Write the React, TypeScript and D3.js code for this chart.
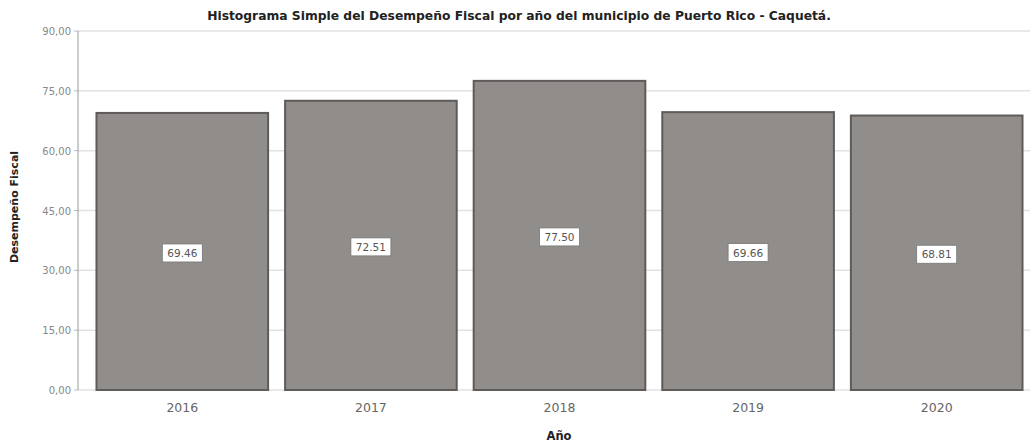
import React from "react";
import * as d3 from "d3";

const years = ["2016", "2017", "2018", "2019", "2020"];
const values = [69.46, 72.51, 77.5, 69.66, 68.81];
const valueLabels = ["69.46", "72.51", "77.50", "69.66", "68.81"];
const yTicks = [0, 15, 30, 45, 60, 75, 90];

export default function App() {
  const W = 1030, H = 443;
  const left = 78, right = 1030, top = 31, bottom = 390;
  const x = d3.scaleBand().domain(years).range([88, 1031]).paddingInner(0.09).paddingOuter(0.045);
  const y = d3.scaleLinear().domain([0, 90]).range([bottom, top]);
  const fmt = (v: number) => d3.format(".2f")(v).replace(".", ",");
  const font = "'DejaVu Sans', Verdana, sans-serif";
  return (
    <svg width={W} height={H} style={{ position: "absolute", left: 0, top: 0, background: "#fff" }} fontFamily={font}>
      <text x={519} y={20} textAnchor="middle" fontSize={12.3} fontWeight="bold" fill="#222">
        Histograma Simple del Desempeño Fiscal por año del municipio de Puerto Rico - Caquetá.
      </text>
      {yTicks.map((t) => (
        <g key={t}>
          <line x1={left} x2={right} y1={y(t)} y2={y(t)} stroke="#e2e2e2" strokeWidth={1.5} />
          <line x1={left - 4} x2={left} y1={y(t)} y2={y(t)} stroke="#bbb" />
          <text x={left - 7} y={y(t) + 4} textAnchor="end" fontSize={10} fill="#888">{fmt(t)}</text>
        </g>
      ))}
      <line x1={left} x2={left} y1={top} y2={bottom} stroke="#aaa" strokeWidth={1.2} />
      {years.map((yr, i) => (
        <g key={yr}>
          <rect x={x(yr)!} y={y(values[i])} width={x.bandwidth()} height={bottom - y(values[i])}
            fill="#918d8a" stroke="#5e5b5a" strokeWidth={2} />
        </g>
      ))}
      {years.map((yr, i) => {
        const cx = x(yr)! + x.bandwidth() / 2;
        const cy = y(values[i] / 2) + 1.5;
        return (
          <g key={"l" + yr}>
            <rect x={cx - 20} y={cy - 9} width={40} height={18} fill="#fff" stroke="#777" strokeWidth={0.8} />
            <text x={cx} y={cy + 4} textAnchor="middle" fontSize={10.5} fill="#555">{valueLabels[i]}</text>
          </g>
        );
      })}
      {years.map((yr) => (
        <text key={"t" + yr} x={x(yr)! + x.bandwidth() / 2} y={412} textAnchor="middle" fontSize={12.5} fill="#666">{yr}</text>
      ))}
      <text x={559} y={440} textAnchor="middle" fontSize={11.5} fontWeight="bold" fill="#222">Año</text>
      <text transform={`translate(18,207) rotate(-90)`} textAnchor="middle" fontSize={11} fontWeight="bold" fill="#222">Desempeño Fiscal</text>
    </svg>
  );
}
